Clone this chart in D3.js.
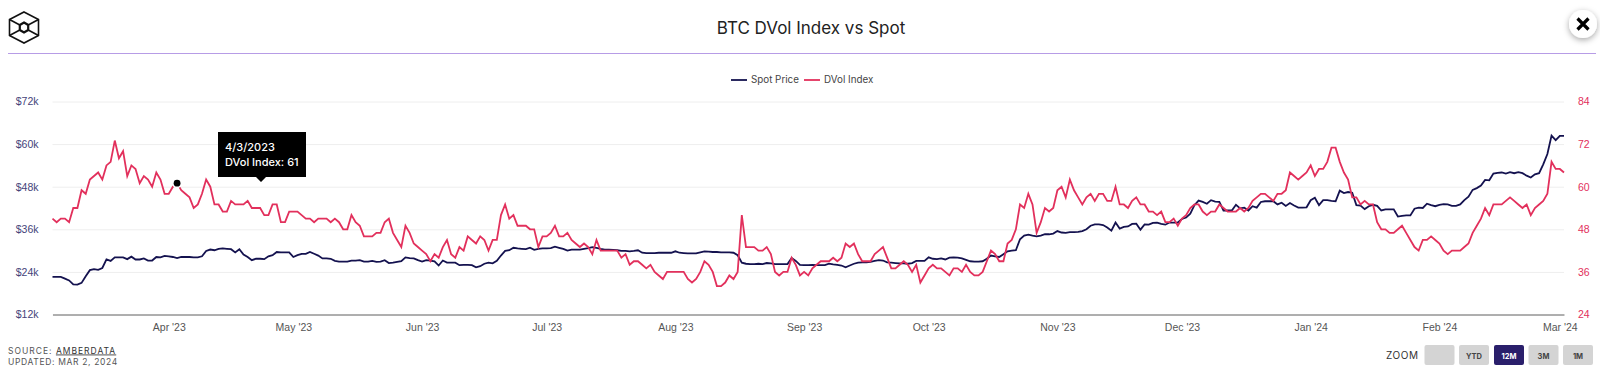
<!DOCTYPE html>
<html>
<head>
<meta charset="utf-8">
<script src="https://cdn.jsdelivr.net/npm/d3@7"></script>
<style>
  html, body { margin: 0; padding: 0; background: #fff; }
  svg { display: block; font-family: Inter, Roboto, sans-serif; }
</style>
</head>
<body>
<div class="canvas"></div>
<script>
// daily values, first one is 2023-03-04, last one 2024-03-02
const startDate = new Date(Date.UTC(2023, 2, 4));
const endDate = new Date(Date.UTC(2024, 2, 2));

const spotValues = [
  22.6,22.6,22.6,22.1,21.6,20.5,20.4,20.9,22.8,24.5,24.8,24.6,25.1,27.5,27.1,28.1,28.1,28.1,27.6,28.3,
  27.5,27.5,27.8,27.2,27.2,28.2,28.1,28.5,28.4,28.2,27.9,28.2,28.2,28.2,28.1,28.1,28.4,29.9,30.3,30.1,
  30.5,30.6,30.5,30.4,29.5,30.4,28.9,28.2,27.3,27.7,27.7,27.6,28.4,28.7,29.6,29.5,29.5,29.5,28.2,28.7,
  29.1,29.1,29.6,29.1,28.6,27.8,27.8,27.7,27.1,26.9,26.9,26.9,27.2,27.2,27.3,26.9,26.9,27.1,26.8,26.9,
  27.3,26.5,26.6,26.8,27.0,28.1,27.9,27.8,27.3,26.9,27.3,27.2,27.0,25.8,27.2,26.6,26.6,26.6,25.9,26.0,
  26.0,25.9,25.3,25.6,26.3,26.6,26.4,27.1,28.6,29.9,30.1,30.8,30.6,30.5,30.4,30.8,30.2,30.5,30.6,30.6,
  30.7,31.1,30.8,30.5,30.0,30.3,30.3,30.3,30.5,30.7,31.0,30.8,30.5,30.3,30.3,30.2,30.1,29.9,29.9,29.8,
  29.9,30.1,29.4,29.3,29.3,29.3,29.4,29.4,29.4,29.4,29.8,29.4,29.3,29.2,29.2,29.2,29.5,29.8,29.7,29.6,
  29.6,29.5,29.5,29.5,29.4,28.7,26.6,26.3,26.2,26.2,26.3,26.2,26.5,26.4,26.2,26.2,26.2,26.2,27.9,27.1,
  26.0,25.9,25.9,26.0,25.9,25.9,25.9,26.3,26.1,26.0,25.8,25.3,25.8,26.3,26.6,26.7,26.7,26.8,27.1,27.3,
  27.2,26.7,26.6,26.5,26.4,26.4,26.3,26.5,27.1,27.1,27.1,28.1,27.7,27.6,27.8,27.5,28.0,28.1,28.0,27.8,
  27.4,27.0,26.9,26.9,27.0,27.7,28.6,28.4,28.2,29.0,29.8,30.0,30.1,33.2,34.2,34.5,34.2,34.0,34.2,34.6,
  34.6,34.8,35.5,35.1,35.0,35.2,35.2,35.3,35.5,36.0,37.0,37.4,37.4,37.2,36.5,35.6,37.9,36.2,36.7,36.8,
  37.5,37.6,35.9,37.4,37.3,37.8,37.9,37.5,37.3,37.9,37.9,37.9,38.9,39.3,40.4,42.8,44.1,43.7,43.2,44.2,
  43.8,43.7,41.3,41.3,41.3,42.9,41.9,42.1,41.3,42.5,42.1,43.7,43.9,43.9,43.9,43.0,43.5,42.6,43.4,42.7,
  42.1,42.1,42.2,44.2,44.9,42.8,44.2,44.2,44.0,43.9,46.9,46.2,46.5,46.3,42.8,42.7,41.7,42.5,42.9,42.6,
  41.3,41.6,41.6,41.6,39.6,39.8,39.9,39.9,41.8,42.1,42.0,43.2,42.8,42.5,42.9,43.1,43.0,42.6,42.6,43.0,
  44.2,45.2,47.1,47.6,48.3,49.9,49.8,51.7,51.9,52.0,51.7,52.1,51.8,52.1,51.8,51.1,50.6,51.5,51.8,54.3,
  57.2,62.4,61.1,62.3,62.3
];

const dvolValues = [
  51,50,51,51,50,54,54,59,58,62,63,64,62,66,67,73,68,70,63,66,
  65,61,63,62,60,64,62,58,58,60,61,59,58,57,54,55,58,62,60,55,
  55,53,53,56,55,55,55,56,54,54,54,52,52,55,55,50,50,53,53,53,
  52,51,51,50,51,51,51,50,51,50,48,48,52,50,49,46,46,46,47,47,
  50,51,47,45,43,49,47,44,43,42,41,39,41,40,43,45,41,40,43,42,
  46,45,44,46,45,42,45,45,52,55,51,52,49,49,49,48,48,43,46,46,
  47,49,46,46,47,45,44,43,44,43,41,45,42,42,42,42,42,40,41,38,
  39,39,38,37,38,36,35,34,36,36,36,36,36,34,33,34,36,39,38,36,
  32,32,33,35,34,36,52,43,43,43,42,42,43,41,36,35,36,36,40,38,
  35,36,35,37,38,39,39,39,40,39,40,44,43,44,41,39,39,39,41,42,
  43,40,37,37,38,39,38,36,38,33,35,37,38,37,37,36,35,37,37,36,
  38,36,35,35,36,39,42,41,39,39,44,45,48,55,54,58,55,47,50,54,
  53,54,59,60,57,62,59,57,55,57,58,56,58,58,56,56,60,55,55,54,
  56,57,55,55,53,53,52,53,50,50,51,49,51,52,54,55,55,53,52,53,
  53,55,54,53,53,53,54,53,54,56,57,58,58,57,56,58,58,59,64,63,
  62,63,64,66,63,65,65,67,71,71,67,64,62,57,57,55,56,55,55,50,
  48,48,47,47,48,49,47,45,43,42,45,45,46,45,44,42,41,42,42,42,
  43,44,47,49,51,54,52,55,55,55,56,57,56,55,54,55,52,54,55,56,
  58,67,65,65,64
];

const spotTicks = [12, 24, 36, 48, 60, 72];
const dvolTicks = [24, 36, 48, 60, 72, 84];
const zoomLabels = ['', 'YTD', '12M', '3M', '1M'];
const legendItems = ['Spot Price', 'DVol Index'];

const navy = '#14124f';
const red = '#e2305c';

const svg = d3.select('.canvas')
  .append('svg')
    .attr('width', 1600)
    .attr('height', 370);

const margin = {top: 101.5, right: 36, bottom: 55.5, left: 52.5};
const graphWidth = 1600 - margin.left - margin.right;
const graphHeight = 370 - margin.top - margin.bottom;

// header
const defs = svg.append('defs');
const shadow = defs.append('filter').attr('id', 'btnShadow')
  .attr('x', '-50%').attr('y', '-50%').attr('width', '200%').attr('height', '200%');
shadow.append('feDropShadow')
  .attr('dx', 0).attr('dy', 2).attr('stdDeviation', 3)
  .attr('flood-color', '#000').attr('flood-opacity', 0.35);

const logo = svg.append('g')
  .attr('transform', 'translate(24, 27.5)')
  .attr('fill', 'none')
  .attr('stroke', '#111')
  .attr('stroke-width', 1.6);
logo.append('path').attr('d', 'M0,-15.5 L14.5,-8 L14.5,8 L0,15.5 L-14.5,8 L-14.5,-8 Z');
logo.append('path')
  .attr('d', 'M0,-5 L4.2,-2.5 L4.2,2.5 L0,5 L-4.2,2.5 L-4.2,-2.5 Z')
  .attr('stroke-width', 2.2);
logo.append('path').attr('d', 'M-14.5,-8 L-4.2,-2.5 M14.5,-8 L4.2,-2.5 M14.5,8 L4.2,2.5 M-14.5,8 L-4.2,2.5');

svg.append('text')
  .attr('x', 811)
  .attr('y', 34)
  .attr('text-anchor', 'middle')
  .attr('font-size', 17)
  .attr('fill', '#222')
  .text('BTC DVol Index vs Spot');

svg.append('line')
  .attr('x1', 8).attr('x2', 1596)
  .attr('y1', 53.5).attr('y2', 53.5)
  .attr('stroke', '#b79ce6');

const closeBtn = svg.append('g').attr('transform', 'translate(1583, 24)');
closeBtn.append('circle')
  .attr('r', 14)
  .attr('fill', '#fff')
  .attr('filter', 'url(#btnShadow)');
closeBtn.append('path')
  .attr('d', 'M-5.5,-5.5 L5.5,5.5 M5.5,-5.5 L-5.5,5.5')
  .attr('stroke', '#000')
  .attr('stroke-width', 3.2);

// legend
const legendX = [731, 804];
const legendColors = [navy, red];
const legend = svg.append('g').selectAll('g')
  .data(legendItems)
  .enter().append('g')
    .attr('transform', (d, i) => `translate(${legendX[i]}, 80)`);
legend.append('line')
  .attr('x2', 16)
  .attr('stroke', (d, i) => legendColors[i])
  .attr('stroke-width', 1.8);
legend.append('text')
  .attr('x', 20)
  .attr('dy', '0.35em')
  .attr('font-size', 9.8)
  .attr('fill', '#444')
  .text(d => d);

// graph
const graph = svg.append('g')
  .attr('transform', `translate(${margin.left}, ${margin.top})`);

const x = d3.scaleUtc()
  .domain([startDate, endDate])
  .range([0, graphWidth]);

const ySpot = d3.scaleLinear()
  .domain([12, 72])
  .range([graphHeight, 0]);

const yDvol = d3.scaleLinear()
  .domain([24, 84])
  .range([graphHeight, 0]);

const xAxis = d3.axisBottom(x)
  .ticks(d3.utcMonth.every(1))
  .tickSize(0)
  .tickPadding(9)
  .tickFormat(d3.utcFormat("%b '%y"));

const yAxisLeft = d3.axisLeft(ySpot)
  .tickValues(spotTicks)
  .tickSize(-graphWidth)
  .tickPadding(14)
  .tickFormat(d => `$${d}k`);

const yAxisRight = d3.axisRight(yDvol)
  .tickValues(dvolTicks)
  .tickSize(0)
  .tickPadding(14);

const yLeftGroup = graph.append('g').call(yAxisLeft);
yLeftGroup.select('.domain').remove();
yLeftGroup.selectAll('line').attr('stroke', '#eeeeee');
yLeftGroup.selectAll('text').attr('fill', '#45437a').attr('font-size', 10.5);

const yRightGroup = graph.append('g')
  .attr('transform', `translate(${graphWidth}, 0)`)
  .call(yAxisRight);
yRightGroup.select('.domain').remove();
yRightGroup.selectAll('text').attr('fill', red).attr('font-size', 10.5);

const xAxisGroup = graph.append('g')
  .attr('transform', `translate(0, ${graphHeight})`)
  .call(xAxis);
xAxisGroup.select('.domain').attr('stroke', '#666');
xAxisGroup.selectAll('text').attr('fill', '#555').attr('font-size', 10.5);

// lines
const dayOf = i => d3.utcDay.offset(startDate, i);

const spotLine = d3.line()
  .x((d, i) => x(dayOf(i)))
  .y(d => ySpot(d));

const dvolLine = d3.line()
  .x((d, i) => x(dayOf(i)))
  .y(d => yDvol(d));

graph.append('path')
  .attr('d', spotLine(spotValues))
  .attr('fill', 'none')
  .attr('stroke', navy)
  .attr('stroke-width', 1.8);

graph.append('path')
  .attr('d', dvolLine(dvolValues))
  .attr('fill', 'none')
  .attr('stroke', red)
  .attr('stroke-width', 1.8);

// hovered point + tooltip
const hoverIndex = 30;
const hoverX = x(dayOf(hoverIndex));
const hoverY = yDvol(dvolValues[hoverIndex]);

graph.append('circle')
  .attr('cx', hoverX)
  .attr('cy', hoverY)
  .attr('r', 5)
  .attr('fill', '#fff');
graph.append('circle')
  .attr('cx', hoverX)
  .attr('cy', hoverY)
  .attr('r', 3.4)
  .attr('fill', '#000');

const tooltip = svg.append('g').attr('transform', 'translate(218, 132)');
tooltip.append('path')
  .attr('d', 'M0,0 H88 V45 H48 L43,50 L38,45 H0 Z')
  .attr('fill', '#000');
tooltip.append('text')
  .attr('x', 7).attr('y', 19)
  .attr('font-size', 11).attr('font-weight', 500).attr('fill', '#fff')
  .text('4/3/2023');
tooltip.append('text')
  .attr('x', 7).attr('y', 34)
  .attr('font-size', 11).attr('font-weight', 500).attr('fill', '#fff')
  .text(`DVol Index: ${dvolValues[hoverIndex]}`);

// footer
const source = svg.append('text')
  .attr('x', 8).attr('y', 353.5)
  .attr('font-size', 8.5)
  .attr('letter-spacing', 1)
  .attr('fill', '#555')
  .text('SOURCE: ');
source.append('tspan')
  .attr('fill', '#333')
  .attr('text-decoration', 'underline')
  .text('AMBERDATA');

svg.append('text')
  .attr('x', 8).attr('y', 364.5)
  .attr('font-size', 8.5)
  .attr('letter-spacing', 0.65)
  .attr('fill', '#555')
  .text('UPDATED: MAR 2, 2024');

svg.append('text')
  .attr('x', 1386).attr('y', 359)
  .attr('font-size', 10)
  .attr('letter-spacing', 0.6)
  .attr('fill', '#333')
  .text('ZOOM');

const buttonX = [1424.5, 1459, 1494, 1528.5, 1563];
const buttons = svg.append('g').selectAll('g')
  .data(zoomLabels)
  .enter().append('g')
    .attr('transform', (d, i) => `translate(${buttonX[i]}, 345)`);
buttons.append('rect')
  .attr('width', 30)
  .attr('height', 20)
  .attr('rx', 2)
  .attr('fill', d => d === '12M' ? '#2a1f6b' : '#d4d4d4');
buttons.append('text')
  .attr('x', 15).attr('y', 14)
  .attr('text-anchor', 'middle')
  .attr('font-size', 7.5)
  .attr('font-weight', 700)
  .attr('fill', d => d === '12M' ? '#fff' : '#444')
  .text(d => d);
</script>
</body>
</html>
